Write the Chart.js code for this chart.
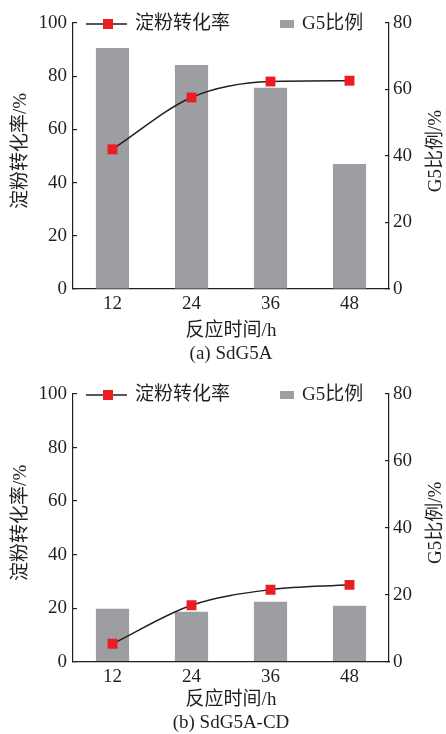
<!DOCTYPE html>
<html>
<head>
<meta charset="utf-8">
<script src="https://cdn.jsdelivr.net/npm/chart.js@4.4.1/dist/chart.umd.min.js"></script>
<style>
  body { margin: 0; background: #fff; width: 446px; height: 734px; overflow: hidden; position: relative; }
  .panel { position: absolute; left: 0; width: 446px; }
</style>
</head>
<body>
<div class="panel" style="top:0;height:367px"><canvas id="chartA"></canvas></div>
<div class="panel" style="top:371px;height:363px"><canvas id="chartB"></canvas></div>
<script>
// data
const hours = ['12', '24', '36', '48'];
const conversionA = [52.5, 72, 78, 78.3];   // 淀粉转化率 /% (left axis)
const g5RatioA = [72.5, 67.4, 60.5, 37.6];  // G5比例 /% (right axis)
const conversionB = [6.7, 21.1, 26.9, 28.7];
const g5RatioB = [15.8, 14.9, 17.9, 16.7];
const leftMax = 100;
const rightMax = 80;
const tickStep = 20;

const INK = '#231f20';
const RED = '#ec1c24';
const GREY = '#9d9ea2';
const FONT = '"Liberation Serif", "Noto Sans CJK SC", serif';

Chart.defaults.font.family = FONT;
Chart.defaults.font.size = 19;
Chart.defaults.color = INK;

// legend inside the top of the plot + y axis titles (both read bottom-to-top)
const extras = {
  id: 'extras',
  afterDraw(chart) {
    const { ctx, chartArea } = chart;
    const y = chartArea.top + 1;
    const [lineSet, barSet] = chart.data.datasets;
    ctx.save();
    ctx.font = '19px ' + FONT;
    ctx.fillStyle = INK;
    ctx.textBaseline = 'middle';

    ctx.strokeStyle = INK;
    ctx.lineWidth = 1.5;
    ctx.beginPath();
    ctx.moveTo(86, y);
    ctx.lineTo(127, y);
    ctx.stroke();
    ctx.fillStyle = RED;
    ctx.fillRect(103, y - 5, 10, 10);
    ctx.fillStyle = INK;
    ctx.textAlign = 'left';
    ctx.fillText(lineSet.label, 135, y);

    ctx.fillStyle = GREY;
    ctx.fillRect(280, y - 4, 14, 8);
    ctx.fillStyle = INK;
    ctx.fillText(barSet.label, 302, y);

    const midY = (chartArea.top + chartArea.bottom) / 2 - 5;
    ctx.textAlign = 'center';
    ctx.translate(21.5, midY);
    ctx.rotate(-Math.PI / 2);
    ctx.fillText('淀粉转化率/%', 0, 0);
    ctx.restore();

    ctx.save();
    ctx.font = '19px ' + FONT;
    ctx.fillStyle = INK;
    ctx.textBaseline = 'middle';
    ctx.textAlign = 'center';
    ctx.translate(436.5, midY);
    ctx.rotate(-Math.PI / 2);
    ctx.fillText('G5比例/%', 0, 0);
    ctx.restore();
  }
};

const yAxis = (position, max, width) => ({
  type: 'linear',
  position,
  min: 0,
  max,
  ticks: { stepSize: tickStep, padding: position === 'left' ? 10 : 8 },
  grid: { drawOnChartArea: false, drawTicks: true, tickLength: -4, color: INK, lineWidth: 1.2 },
  border: { display: true, color: INK, width: 1.2 },
  afterFit: (scale) => { scale.width = width; },
});

const makeChart = (id, conversion, g5, caption, xHeight, titlePad) => {
  new Chart(document.getElementById(id), {
    type: 'bar',
    data: {
      labels: hours,
      datasets: [
        {
          type: 'line',
          label: '淀粉转化率',
          data: conversion,
          yAxisID: 'y',
          borderColor: INK,
          borderWidth: 1.5,
          cubicInterpolationMode: 'monotone',
          pointStyle: 'rect',
          pointRadius: 7,
          pointBackgroundColor: RED,
          pointBorderWidth: 0,
          order: 0,
        },
        {
          label: 'G5比例',
          data: g5,
          yAxisID: 'y1',
          backgroundColor: GREY,
          barPercentage: 0.42,
          categoryPercentage: 1,
          order: 1,
        },
      ],
    },
    options: {
      responsive: true,
      maintainAspectRatio: false,
      animation: false,
      layout: { padding: { top: 23, left: 0, right: 0, bottom: 0 } },
      plugins: { legend: { display: false }, tooltip: { enabled: false } },
      scales: {
        x: {
          offset: true,
          grid: { display: false, drawTicks: false },
          border: { display: true, color: INK, width: 1.2 },
          ticks: { padding: 4 },
          title: {
            display: true,
            text: ['反应时间/h', caption],
            padding: { top: 0, bottom: titlePad },
            font: { size: 19, lineHeight: 1.2 },
          },
          afterFit: (scale) => { scale.height = xHeight; },
        },
        y: yAxis('left', leftMax, 73),
        y1: yAxis('right', rightMax, 57),
      },
    },
    plugins: [extras],
  });
};

makeChart('chartA', conversionA, g5RatioA, '(a) SdG5A', 78, 2);
makeChart('chartB', conversionB, g5RatioB, '(b) SdG5A-CD', 72.3, 0);
</script>
</body>
</html>
